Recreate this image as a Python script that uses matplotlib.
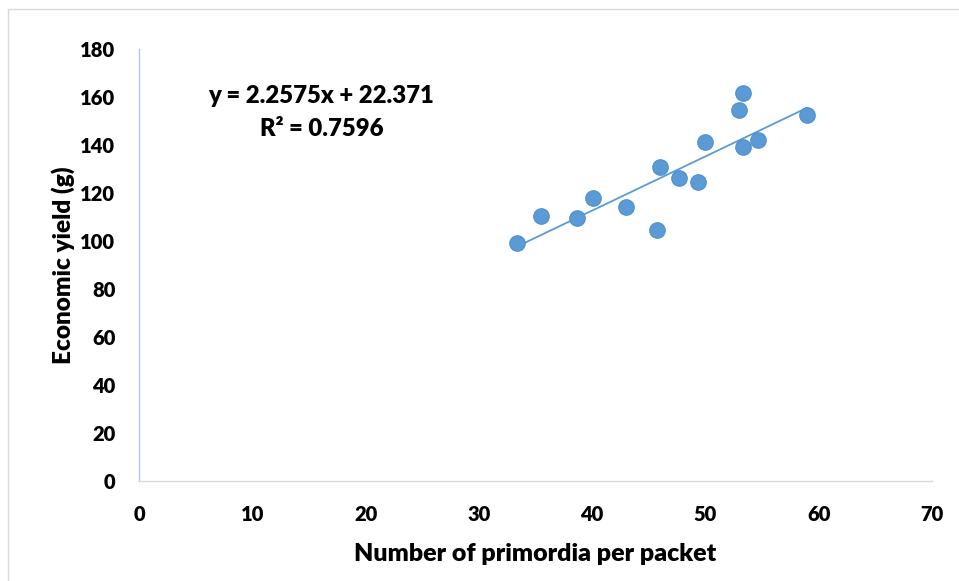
import matplotlib
matplotlib.use("Agg")
import matplotlib.pyplot as plt
from matplotlib.patches import Rectangle
import numpy as np

# Primordia count per packet vs. economic yield
primordia = [33.4, 35.45, 38.7, 40.05, 43.0, 45.7, 46.0, 47.7, 49.35, 50.0,
             53.0, 53.35, 53.35, 54.65, 58.95]
yield_g = [99.0, 110.5, 109.6, 117.8, 114.2, 104.5, 130.7, 126.4, 124.5, 141.4,
           154.6, 161.6, 139.3, 142.1, 152.5]

slope = 2.2575
intercept = 22.371
r_squared = 0.7596

x_ticks = [0, 10, 20, 30, 40, 50, 60, 70]
y_ticks = [0, 20, 40, 60, 80, 100, 120, 140, 160, 180]

plt.rcParams['font.family'] = ['Lato', 'DejaVu Sans']
WEIGHT = 'heavy'

W, H = 959, 581
fig = plt.figure(figsize=(W / 100, H / 100), dpi=100)
fig.patch.set_facecolor('white')

# chart area frame
fig.patches.append(Rectangle((8 / W, -0.01), 1.0, 1 - 9 / H + 0.01,
                             transform=fig.transFigure, fill=False,
                             edgecolor='#d9d9d9', linewidth=1.0))

ax = fig.add_axes([139 / W, 1 - 481 / H, (932 - 139) / W, (481 - 49) / H])
ax.set_xlim(0, 70)
ax.set_ylim(0, 180)

for s in ['top', 'right']:
    ax.spines[s].set_visible(False)
ax.spines['left'].set_color('#b4c7e7')
ax.spines['bottom'].set_color('#d9d9d9')
ax.spines['left'].set_linewidth(1.0)
ax.spines['bottom'].set_linewidth(1.0)

ax.set_xticks(x_ticks)
ax.set_yticks(y_ticks)
ax.tick_params(length=0, labelsize=14.5)
ax.tick_params(axis='x', pad=17)
ax.tick_params(axis='y', pad=17)
for lab in ax.get_xticklabels() + ax.get_yticklabels():
    lab.set_fontweight(WEIGHT)

# linear trendline across the data range
xl = np.array([min(primordia), max(primordia)])
ax.plot(xl, slope * xl + intercept, color='#5b9bd5', linewidth=1.3, zorder=2)

ax.scatter(primordia, yield_g, s=125, color='#5b9bd5', edgecolors='#4f8fcb',
           linewidths=0.8, zorder=3)

ax.text(16.1, 160.5, f"y = {slope}x + {intercept}", ha='center', va='center',
        fontsize=17.2, fontweight=WEIGHT)
ax.text(16.1, 146.5, f"R² = {r_squared}", ha='center', va='center',
        fontsize=17.2, fontweight=WEIGHT)

ax.set_xlabel("Number of primordia per packet", fontsize=18, fontweight=WEIGHT,
              labelpad=14)
ax.set_ylabel("Economic yield (g)", fontsize=17.5, fontweight=WEIGHT)
ax.yaxis.set_label_coords(-0.081, 0.5)

fig.savefig("out.png", dpi=100)
